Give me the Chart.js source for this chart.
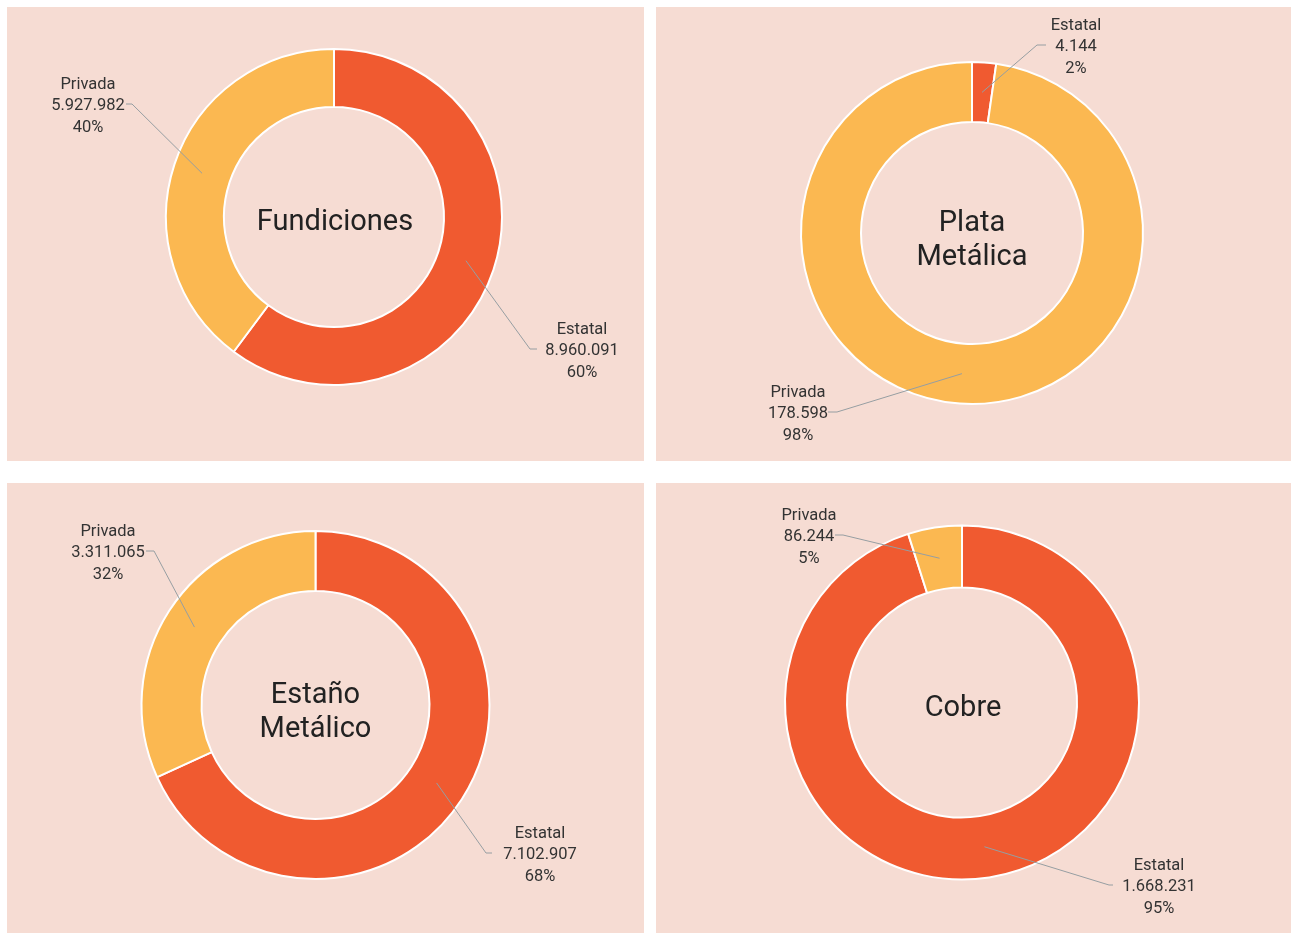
<!DOCTYPE html>
<html><head><meta charset="utf-8">
<script src="https://cdn.jsdelivr.net/npm/chart.js@4.4.1/dist/chart.umd.min.js"></script>
<style>
html,body{margin:0;padding:0;background:#fff;width:1291px;height:933px;overflow:hidden;font-family:Roboto,sans-serif}
.panel{position:absolute;background:#F6DCD3}
canvas{display:block}
</style></head><body>
<div class="panel" style="left:7px;top:7px;width:637px;height:454px"><canvas id="c0" width="637" height="454"></canvas></div>
<div class="panel" style="left:656px;top:7px;width:635px;height:454px"><canvas id="c1" width="635" height="454"></canvas></div>
<div class="panel" style="left:7px;top:483px;width:637px;height:450px"><canvas id="c2" width="637" height="450"></canvas></div>
<div class="panel" style="left:656px;top:483px;width:635px;height:450px"><canvas id="c3" width="635" height="450"></canvas></div>
<script>
// ---- data ----
const categories = ['Estatal', 'Privada'];
const fundiciones = [8960091, 5927982];
const plataMetalica = [4144, 178598];
const estanoMetalico = [7102907, 3311065];
const cobre = [1668231, 86244];
const chartTitles = [['Fundiciones'], ['Plata', 'Metálica'], ['Estaño', 'Metálico'], ['Cobre']];
const seriesList = [fundiciones, plataMetalica, estanoMetalico, cobre];

// ---- styles / layout ----
const sliceColors = ['#F05A30', '#FBB851'];
const layouts = [
  {panel:[7,7,637,454], cx:334, cy:217, R:168, r:110,
   labels:[{tx:582, ty:349, elbow:[530,349], end:537}, {tx:88, ty:104, elbow:[132,104], end:126}]},
  {panel:[656,7,635,454], cx:972, cy:233, R:171, r:111,
   labels:[{tx:1076, ty:45, elbow:[1037,45], end:1046}, {tx:798, ty:412, elbow:[837,412], end:828}]},
  {panel:[7,483,637,450], cx:315.5, cy:705, R:174, r:114,
   labels:[{tx:540, ty:853, elbow:[486,853], end:492}, {tx:108, ty:551, elbow:[154,551], end:146}]},
  {panel:[656,483,635,450], cx:962, cy:702.5, R:177, r:115,
   labels:[{tx:1159, ty:885, elbow:[1109,885], end:1113}, {tx:809, ty:535, elbow:[843,535], end:835}]}
];

function fmt(n){ return String(n).replace(/\B(?=(\d{3})+(?!\d))/g, '.'); }

function makePlugin(idx){
  const L = layouts[idx];
  const ox = L.panel[0], oy = L.panel[1];
  return {
    id: 'leader' + idx,
    afterDatasetsDraw(chart){
      const ctx = chart.ctx;
      const meta = chart.getDatasetMeta(0);
      const vals = chart.data.datasets[0].data;
      const total = vals.reduce((a,b)=>a+b, 0);
      meta.data.forEach((arc, i) => {
        const p = arc.tooltipPosition();
        const lab = L.labels[i];
        ctx.save();
        ctx.strokeStyle = '#969ea2';
        ctx.lineWidth = 1;
        ctx.beginPath();
        ctx.moveTo(p.x, p.y);
        ctx.lineTo(lab.elbow[0]-ox, lab.elbow[1]-oy);
        ctx.lineTo(lab.end-ox, lab.elbow[1]-oy);
        ctx.stroke();
        ctx.fillStyle = '#333333';
        ctx.font = '16.5px Roboto';
        ctx.textAlign = 'center';
        ctx.textBaseline = 'middle';
        const lines = [chart.data.labels[i], fmt(vals[i]), Math.round(vals[i]/total*100) + '%'];
        lines.forEach((t,k) => ctx.fillText(t, lab.tx-ox, lab.ty-oy+2+(k-1)*21.5));
        ctx.restore();
      });
      // center title
      const ca = chart.chartArea;
      const mx = (ca.left+ca.right)/2, my = (ca.top+ca.bottom)/2;
      const title = chartTitles[idx];
      ctx.save();
      ctx.fillStyle = '#222222';
      ctx.font = '29px Roboto';
      ctx.textAlign = 'center';
      ctx.textBaseline = 'middle';
      if (title.length === 1) ctx.fillText(title[0], mx + 1, my + 6);
      else { ctx.fillText(title[0], mx, my - 9); ctx.fillText(title[1], mx, my + 25); }
      ctx.restore();
    }
  };
}

seriesList.forEach((vals, idx) => {
  const L = layouts[idx];
  const W = L.panel[2], H = L.panel[3];
  const cxr = L.cx - L.panel[0], cyr = L.cy - L.panel[1];
  const half = L.R + 1;
  new Chart(document.getElementById('c'+idx), {
    type: 'doughnut',
    data: {
      labels: categories,
      datasets: [{
        data: vals,
        backgroundColor: sliceColors,
        borderColor: '#ffffff',
        borderWidth: 2,
        hoverOffset: 0
      }]
    },
    options: {
      responsive: false,
      animation: false,
      events: [],
      cutout: L.r,
      layout: { padding: { left: cxr-half, right: W-cxr-half, top: cyr-half, bottom: H-cyr-half } },
      plugins: { legend: { display: false }, tooltip: { enabled: false } }
    },
    plugins: [makePlugin(idx)]
  });
});
</script>
</body></html>
